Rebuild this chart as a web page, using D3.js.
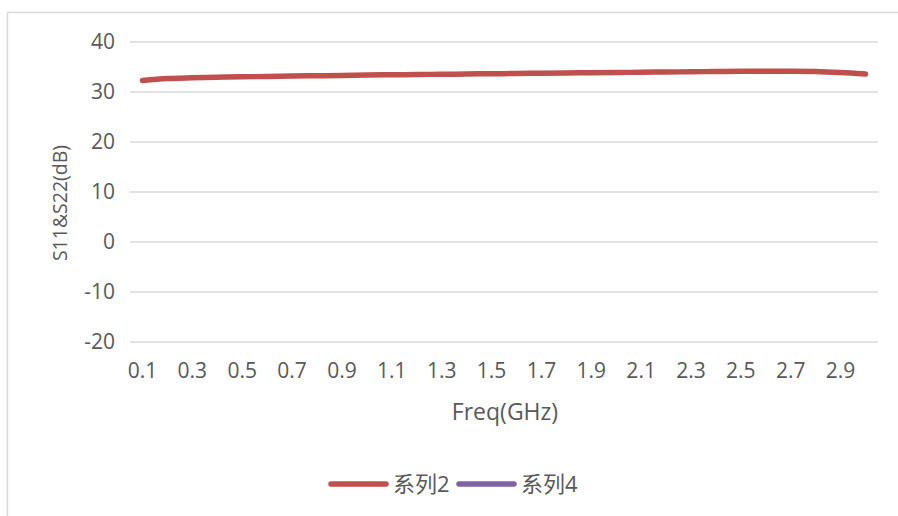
<!DOCTYPE html>
<html><head><meta charset="utf-8">
<script src="https://cdn.jsdelivr.net/npm/d3@7"></script>
<style>body{margin:0;background:#fff}svg{display:block}text{font-family:"Open Sans","Noto Sans CJK SC",sans-serif;fill:#595959}</style>
</head><body><svg id="c" width="898" height="516"></svg>
<script>
const categories = ["0.1","0.2","0.3","0.4","0.5","0.6","0.7","0.8","0.9","1.0","1.1","1.2","1.3","1.4","1.5","1.6","1.7","1.8","1.9","2.0","2.1","2.2","2.3","2.4","2.5","2.6","2.7","2.8","2.9","3.0"];
const series2 = [32.2,32.6,32.75,32.85,32.95,33.0,33.1,33.15,33.2,33.3,33.35,33.4,33.45,33.5,33.55,33.6,33.65,33.7,33.75,33.8,33.85,33.9,33.95,34.0,34.05,34.05,34.05,34.0,33.8,33.5];
const series4 = [];
const yTicks = [-20,-10,0,10,20,30,40];
const xTickLabels = ["0.1","0.3","0.5","0.7","0.9","1.1","1.3","1.5","1.7","1.9","2.1","2.3","2.5","2.7","2.9"];
const seriesNames = ["系列2","系列4"];
const colors = ["#C0504D","#8064A2"];

const svg = d3.select("#c");
svg.append("rect").attr("x",7.5).attr("y",12.5).attr("width",1000).attr("height",600)
  .attr("fill","none").attr("stroke","#d9d9d9").attr("stroke-width",1.5);

const L=130,R=878,T=41.5,B=341.5;
const x = d3.scaleBand().domain(categories).range([L,R]);
const y = d3.scaleLinear().domain([-20,40]).range([B,T]);

const gy = svg.append("g").attr("transform",`translate(${L},0)`)
  .call(d3.axisLeft(y).tickValues(yTicks).tickFormat(d=>String(d)).tickSize(-(R-L)).tickPadding(15));
gy.select(".domain").remove();
gy.selectAll(".tick line").attr("stroke","#d9d9d9").attr("stroke-width",1.5);
gy.selectAll(".tick text").style("font-size","21px").attr("fill","#595959");

const gx = svg.append("g").attr("transform",`translate(0,${B})`)
  .call(d3.axisBottom(x).tickValues(xTickLabels).tickSize(0).tickPadding(22));
gx.select(".domain").remove();
gx.selectAll(".tick text").style("font-size","21px").attr("fill","#595959");

const line = d3.line().x((d,i)=>x(categories[i])+x.bandwidth()/2).y(d=>y(d)).curve(d3.curveMonotoneX);
svg.append("path").datum(series2).attr("d",line).attr("fill","none")
  .attr("stroke",colors[0]).attr("stroke-width",5.5).attr("stroke-linecap","round");
if(series4.length) svg.append("path").datum(series4).attr("d",line).attr("fill","none")
  .attr("stroke",colors[1]).attr("stroke-width",5.5).attr("stroke-linecap","round");

svg.append("text").attr("x",(L+R)/2+1).attr("y",420).attr("text-anchor","middle")
  .style("font-size","23px").text("Freq(GHz)");
svg.append("text").attr("transform",`translate(67,203) rotate(-90)`).attr("text-anchor","middle")
  .style("font-size","19.5px").text("S11&S22(dB)");

const lg = svg.append("g");
const lx = [331,459];
seriesNames.forEach((n,i)=>{
  lg.append("line").attr("x1",lx[i]).attr("x2",lx[i]+55).attr("y1",484).attr("y2",484)
    .attr("stroke",colors[i]).attr("stroke-width",5.5).attr("stroke-linecap","round");
  lg.append("text").attr("x",lx[i]+62).attr("y",492).style("font-size","22px").text(n);
});
</script></body></html>
